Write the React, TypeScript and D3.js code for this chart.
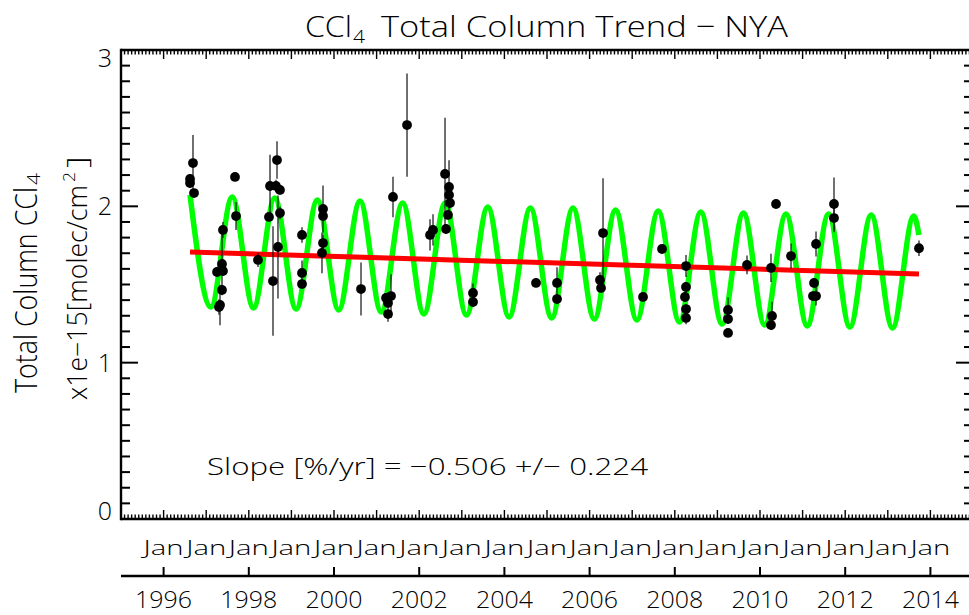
import React from "react";
import * as d3 from "d3";

// ---------- data ----------
const obsDates = [
  1996.690, 1996.620, 1996.620, 1996.714, 1997.676, 1997.700, 1997.394, 1997.371, 1997.254, 1997.394,
  1997.371, 1997.324, 1997.300, 1998.216, 1998.498, 1998.662, 1998.638, 1998.732, 1998.732, 1998.685,
  1998.568, 1998.474, 1999.249, 1999.249, 1999.249, 1999.742, 1999.742, 1999.742, 1999.718, 2000.634,
  2001.714, 2001.385, 2001.221, 2001.338, 2001.268, 2001.268, 2002.254, 2002.324, 2002.606, 2002.700,
  2002.700, 2002.723, 2002.676, 2002.629, 2003.263, 2003.263, 2004.742, 2005.235, 2005.235, 2006.315,
  2006.244, 2006.268, 2007.254, 2007.700, 2008.263, 2008.263, 2008.239, 2008.263, 2008.263, 2009.249,
  2009.249, 2009.249, 2009.695, 2010.376, 2010.258, 2010.282, 2010.258, 2010.728, 2011.315, 2011.268,
  2011.244, 2011.315, 2011.737, 2011.737, 2013.732,
];
const obsValues = [
  2.277, 2.175, 2.149, 2.085, 2.188, 1.938, 1.849, 1.631, 1.580, 1.586,
  1.465, 1.369, 1.356, 1.657, 2.130, 2.296, 2.130, 2.105, 1.957, 1.740,
  1.522, 1.932, 1.817, 1.574, 1.503, 1.983, 1.938, 1.765, 1.702, 1.471,
  2.520, 2.060, 1.414, 1.426, 1.382, 1.311, 1.817, 1.849, 2.207, 2.124,
  2.073, 2.021, 1.945, 1.855, 1.446, 1.388, 1.510, 1.510, 1.407, 1.829,
  1.529, 1.478, 1.420, 1.727, 1.618, 1.484, 1.420, 1.343, 1.286, 1.337,
  1.279, 1.190, 1.625, 2.015, 1.606, 1.299, 1.241, 1.682, 1.759, 1.510,
  1.426, 1.426, 2.015, 1.925, 1.732,
];
const obsErrors = [
  0.18, 0.03, 0.03, 0.02, 0.02, 0.09, 0.05, 0.20, 0.03, 0.03,
  0.03, 0.13, 0.05, 0.045, 0.20, 0.12, 0.04, 0.03, 0.04, 0.33,
  0.35, 0.03, 0.05, 0.08, 0.03, 0.15, 0.03, 0.05, 0.13, 0.17,
  0.33, 0.13, 0.03, 0.14, 0.03, 0.05, 0.10, 0.10, 0.36, 0.17,
  0.03, 0.03, 0.03, 0.03, 0.06, 0.03, 0.02, 0.10, 0.03, 0.35,
  0.05, 0.03, 0.02, 0.02, 0.07, 0.03, 0.03, 0.03, 0.04, 0.08,
  0.03, 0.02, 0.06, 0.02, 0.09, 0.09, 0.03, 0.08, 0.08, 0.03,
  0.03, 0.06, 0.17, 0.09, 0.05,
];

// seasonal fit: turning points
const fitDates = [
  1996.62,
  1997.11, 1997.61, 1998.11, 1998.61, 1999.11, 1999.61, 2000.11, 2000.61,
  2001.11, 2001.61, 2002.11, 2002.61, 2003.11, 2003.61, 2004.11, 2004.61,
  2005.11, 2005.61, 2006.11, 2006.61, 2007.11, 2007.61, 2008.11, 2008.61,
  2009.11, 2009.61, 2010.11, 2010.61, 2011.11, 2011.61, 2012.11, 2012.61,
  2013.11, 2013.61, 2013.73,
];
const fitValues = [
  2.073,
  1.356, 2.060, 1.350, 2.053, 1.343, 2.041, 1.337, 2.034,
  1.324, 2.021, 1.311, 2.021, 1.305, 1.996, 1.292, 1.989,
  1.286, 1.989, 1.279, 1.977, 1.273, 1.970, 1.260, 1.964,
  1.247, 1.957, 1.241, 1.951, 1.235, 1.951, 1.228, 1.945,
  1.222, 1.938, 1.817,
];

// linear trend
const trendDates = [1996.62, 2013.732];
const trendValues = [1.708, 1.567];

// axes
const xDomain = [1995, 2015];
const yDomain = [0, 3];
const yTickValues = [0, 1, 2, 3];
const yTickLabels = ["0", "1", "2", "3"];
const janYears = [1996, 1997, 1998, 1999, 2000, 2001, 2002, 2003, 2004, 2005, 2006, 2007, 2008, 2009, 2010, 2011, 2012, 2013, 2014];
const yearTickValues = [1996, 1998, 2000, 2002, 2004, 2006, 2008, 2010, 2012, 2014];
const yearTickLabels = ["1996", "1998", "2000", "2002", "2004", "2006", "2008", "2010", "2012", "2014"];

const titleMain = "CCl";
const titleSub = "4";
const titleRest = "Total Column Trend \u2212 NYA";
const slopeText = "Slope [%/yr] = \u22120.506 +/\u2212 0.224";

const FONT = "'Open Sans', 'DejaVu Sans', sans-serif";
const FW = 300;

export default function App() {
  const left = 121, right = 973, top = 50, bottom = 519;
  const x = d3.scaleLinear().domain(xDomain).range([left, right]);
  const y = d3.scaleLinear().domain(yDomain).range([bottom, top]);

  const fitLine = d3
    .line<number>()
    .x((_, i) => x(fitDates[i]))
    .y((d) => y(d))
    .curve(d3.curveMonotoneX)(fitValues) as string;
  const trendLine = d3
    .line<number>()
    .x((_, i) => x(trendDates[i]))
    .y((d) => y(d))(trendValues) as string;

  const monthTicks = d3.range(xDomain[0] * 12, xDomain[1] * 12 + 1).map((m) => m / 12);
  const yMinor = d3.range(0, 31).map((k) => k / 10);

  const axisW = 2.4;
  const secondAxisY = 576;

  return (
    <svg
      width={969}
      height={615}
      viewBox="0 0 969 615"
      style={{ position: "fixed", left: 0, top: 0, background: "#fff" }}
      fontFamily={FONT}
      fontWeight={FW}
    >
      <rect x={0} y={0} width={969} height={615} fill="#fff" />

      {/* title */}
      <text x={305} y={37} fontSize={30} textLength={47} lengthAdjust="spacingAndGlyphs">{titleMain}</text>
      <text x={353} y={43} fontSize={18} textLength={12} lengthAdjust="spacingAndGlyphs">{titleSub}</text>
      <text x={381} y={37} fontSize={30} textLength={407} lengthAdjust="spacingAndGlyphs">{titleRest}</text>

      {/* fit, trend, data */}
      <path d={fitLine} fill="none" stroke="#00ff00" strokeWidth={5.5} strokeLinejoin="round" />
      <path d={trendLine} fill="none" stroke="#ff0000" strokeWidth={5} />
      <g>
        {obsDates.map((t, i) => (
          <line
            key={"e" + i}
            x1={x(t)}
            x2={x(t)}
            y1={y(obsValues[i] + obsErrors[i])}
            y2={y(obsValues[i] - obsErrors[i])}
            stroke="#111"
            strokeWidth={1.2}
          />
        ))}
        {obsDates.map((t, i) => (
          <circle key={"p" + i} cx={x(t)} cy={y(obsValues[i])} r={4.9} fill="#000" />
        ))}
      </g>

      {/* axes box */}
      <g stroke="#000" strokeWidth={axisW} fill="none">
        <line x1={left} x2={right} y1={top} y2={top} />
        <line x1={left} x2={right} y1={bottom} y2={bottom} />
        <line x1={left} x2={left} y1={top - 1.2} y2={bottom + 1.2} />
        <line x1={right} x2={right} y1={top} y2={bottom} />
      </g>
      {/* x ticks (monthly minor, yearly major) */}
      <g stroke="#000" strokeWidth={1.4}>
        {monthTicks.map((t, i) => {
          const major = i % 12 === 0;
          const len = major ? 9 : 4.5;
          return (
            <g key={"mt" + i}>
              <line x1={x(t)} x2={x(t)} y1={bottom} y2={bottom - len} />
              <line x1={x(t)} x2={x(t)} y1={top} y2={top + len} />
            </g>
          );
        })}
      </g>
      {/* y ticks */}
      <g stroke="#000" strokeWidth={2}>
        {yMinor.map((v, i) => {
          const major = i % 10 === 0;
          const len = major ? 17 : 9;
          return (
            <g key={"yt" + i}>
              <line x1={left} x2={left + len} y1={y(v)} y2={y(v)} />
              <line x1={right} x2={right - len} y1={y(v)} y2={y(v)} />
            </g>
          );
        })}
      </g>
      {/* y tick labels */}
      {yTickValues.map((v, i) => {
        const shift = v === 0 ? -8 : v === 3 ? 8 : 0;
        return (
          <text key={"yl" + i} x={112} y={y(v) + 9 + shift} fontSize={25} textAnchor="end">
            {yTickLabels[i]}
          </text>
        );
      })}

      {/* y axis title */}
      <g transform={`translate(37,393) rotate(-90)`}>
        <text x={0} y={0} fontSize={31} textLength={206} lengthAdjust="spacingAndGlyphs">Total Column CCl</text>
        <text x={208} y={3} fontSize={19} textLength={12} lengthAdjust="spacingAndGlyphs">4</text>
      </g>
      <g transform={`translate(87,400) rotate(-90)`}>
        <text x={0} y={0} fontSize={27} textLength={215} lengthAdjust="spacingAndGlyphs">x1e{"\u2212"}15[molec/cm</text>
        <text x={218} y={-12} fontSize={17} textLength={10} lengthAdjust="spacingAndGlyphs">2</text>
        <text x={232} y={0} fontSize={27} textLength={12} lengthAdjust="spacingAndGlyphs">]</text>
      </g>

      {/* slope annotation */}
      <text x={207} y={475} fontSize={24} textLength={441} lengthAdjust="spacingAndGlyphs">{slopeText}</text>

      {/* Jan labels */}
      {janYears.map((yr) => (
        <text key={"jan" + yr} x={x(yr)} y={555} fontSize={21} textAnchor="middle" textLength={40} lengthAdjust="spacingAndGlyphs">
          Jan
        </text>
      ))}

      {/* second axis with years */}
      <line x1={left} x2={right} y1={secondAxisY} y2={secondAxisY} stroke="#000" strokeWidth={axisW} />
      {yearTickValues.map((yr, i) => (
        <g key={"yr" + yr}>
          <line x1={x(yr)} x2={x(yr)} y1={secondAxisY} y2={secondAxisY - 9} stroke="#000" strokeWidth={2} />
          <text x={x(yr)} y={608} fontSize={23} textAnchor="middle" textLength={57} lengthAdjust="spacingAndGlyphs">
            {yearTickLabels[i]}
          </text>
        </g>
      ))}
    </svg>
  );
}
